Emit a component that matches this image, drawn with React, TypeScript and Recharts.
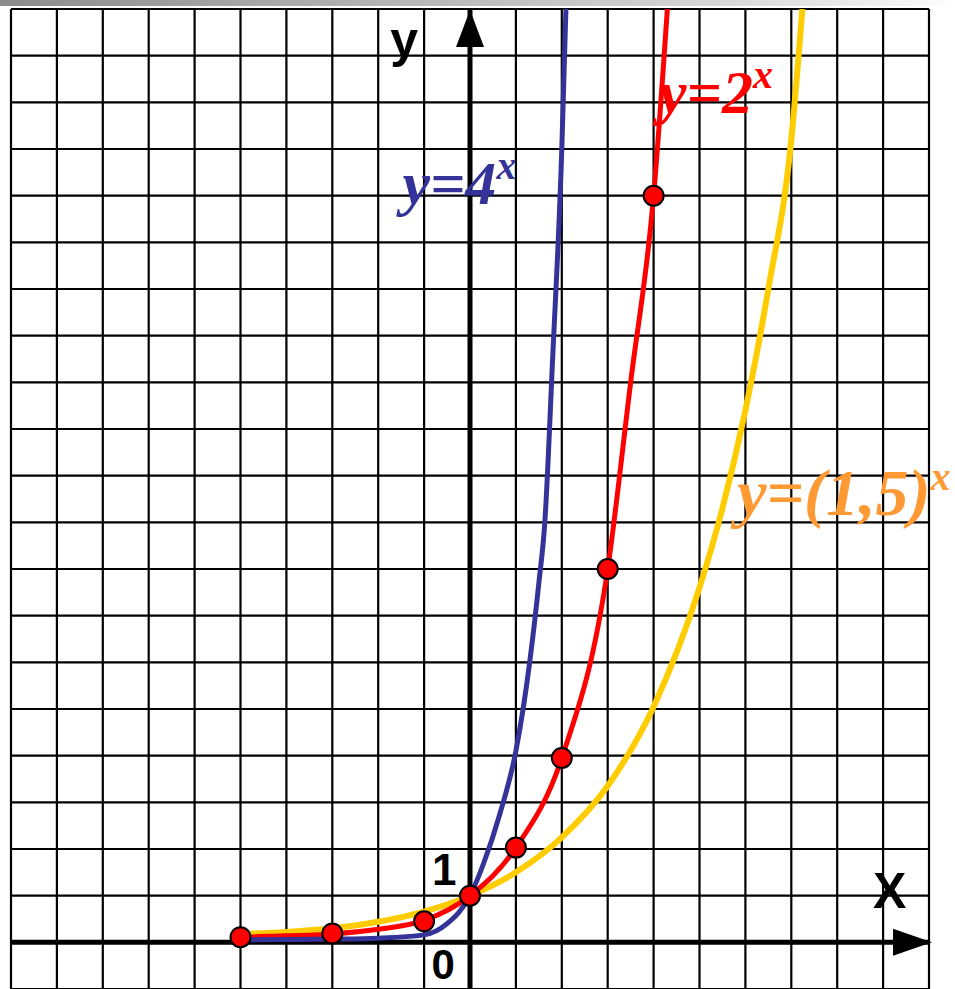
import React from "react";
import {
  CartesianGrid,
  ComposedChart,
  Line,
  ReferenceDot,
  ReferenceLine,
  Scatter,
  XAxis,
  YAxis,
} from "recharts";

// grid ticks, one per cell
const xTicks = [-10, -9, -8, -7, -6, -5, -4, -3, -2, -1, 0, 1, 2, 3, 4, 5, 6, 7, 8, 9, 10];
const yTicks = [-1, 0, 1, 2, 3, 4, 5, 6, 7, 8, 9, 10, 11, 12, 13, 14, 15, 16, 17, 18, 19, 20];

// y = 4^x
const pow4 = [
  { x: -5.2, y: 0.05 },
  { x: -4, y: 0.06 },
  { x: -3, y: 0.07 },
  { x: -2, y: 0.09 },
  { x: -1, y: 0.16 },
  { x: -0.5, y: 0.4 },
  { x: 0, y: 1 },
  { x: 0.3, y: 1.7 },
  { x: 0.65, y: 2.75 },
  { x: 1, y: 4.1 },
  { x: 1.3, y: 6 },
  { x: 1.5, y: 7.7 },
  { x: 1.63, y: 9 },
  { x: 1.8, y: 12.5 },
  { x: 2, y: 17 },
  { x: 2.09, y: 20 },
];

// y = 2^x
const pow2 = [
  { x: -5.2, y: 0.1 },
  { x: -5, y: 0.11 },
  { x: -4, y: 0.14 },
  { x: -3, y: 0.18 },
  { x: -2, y: 0.28 },
  { x: -1, y: 0.47 },
  { x: 0, y: 1 },
  { x: 1, y: 2.03 },
  { x: 2, y: 3.95 },
  { x: 3, y: 8 },
  { x: 3.5, y: 12 },
  { x: 4, y: 16 },
  { x: 4.3, y: 20 },
];

// red points on y = 2^x
const pow2Marks = [
  { x: -5, y: 0.11 },
  { x: -3, y: 0.19 },
  { x: -1, y: 0.45 },
  { x: 0, y: 1 },
  { x: 1, y: 2.03 },
  { x: 2, y: 3.95 },
  { x: 3, y: 8 },
  { x: 4, y: 16 },
];

// y = (1,5)^x
const pow15 = [
  { x: -5.2, y: 0.17 },
  { x: -4, y: 0.22 },
  { x: -3, y: 0.3 },
  { x: -2, y: 0.44 },
  { x: -1, y: 0.66 },
  { x: -0.5, y: 0.81 },
  { x: 0, y: 1 },
  { x: 1, y: 1.5 },
  { x: 2, y: 2.25 },
  { x: 3, y: 3.35 },
  { x: 4, y: 5.05 },
  { x: 5, y: 7.6 },
  { x: 5.5, y: 9.3 },
  { x: 6, y: 11.4 },
  { x: 6.5, y: 14 },
  { x: 7, y: 17.2 },
  { x: 7.24, y: 20 },
];

const W = 955;
const H = 989;

const serif = "'Liberation Serif', 'Times New Roman', serif";
const sans = "'Liberation Sans', Arial, sans-serif";

const noTick = () => <g />;

const redDot = (props: any) => (
  <circle cx={props.cx} cy={props.cy} r={10} fill="#ff0000" stroke="#000" strokeWidth={2} />
);

const xArrow = (props: any) => {
  const { cx, cy } = props;
  return <polygon points={`${cx + 3},${cy} ${cx - 36},${cy - 13.5} ${cx - 36},${cy + 13.5}`} fill="#000" />;
};

const yArrow = (props: any) => {
  const { cx, cy } = props;
  return <polygon points={`${cx},${cy + 1} ${cx - 14},${cy + 38} ${cx + 14},${cy + 38}`} fill="#000" />;
};

const formula = (base: string, color: string, size = 62) => (props: any) => (
  <text
    x={props.cx}
    y={props.cy}
    fill={color}
    fontFamily={serif}
    fontWeight="bold"
    fontStyle="italic"
    fontSize={size}
  >
    {base}
    <tspan dy={-25} fontSize={40}>
      x
    </tspan>
  </text>
);

const plain = (label: string, size: number) => (props: any) => (
  <text x={props.cx} y={props.cy} fill="#000" fontFamily={sans} fontWeight="bold" fontSize={size}>
    {label}
  </text>
);

export default function App() {
  return (
    <div style={{ position: "relative", width: W, height: H, background: "#fff", overflow: "hidden" }}>
      <style>{"body{margin:0;}"}</style>
      <div
        style={{
          position: "absolute",
          left: 0,
          top: 0,
          width: W,
          height: 6,
          background: "linear-gradient(90deg, #8c8c8c 0%, #b9b9b9 45%, #d6d6d6 75%, #f4f4f4 95%, #fff 100%)",
        }}
      />
      <ComposedChart width={W} height={H} margin={{ top: 9, right: 26, bottom: 0, left: 11 }}>
        <CartesianGrid stroke="#000" strokeWidth={2.2} />
        <XAxis
          dataKey="x"
          type="number"
          domain={[-10, 10]}
          ticks={xTicks}
          interval={0}
          allowDataOverflow
          height={0}
          tick={noTick}
          tickLine={false}
          axisLine={false}
        />
        <YAxis
          type="number"
          domain={[-1, 20]}
          ticks={yTicks}
          interval={0}
          allowDataOverflow
          width={0}
          tick={noTick}
          tickLine={false}
          axisLine={false}
        />
        <ReferenceLine y={0} stroke="#000" strokeWidth={5} />
        <ReferenceLine x={0} stroke="#000" strokeWidth={5} />

        <Line data={pow15} dataKey="y" type="monotone" stroke="#ffcc00" strokeWidth={6} dot={false} isAnimationActive={false} />
        <Line data={pow2} dataKey="y" type="monotone" stroke="#ff0000" strokeWidth={5} dot={false} isAnimationActive={false} />
        <Line data={pow4} dataKey="y" type="monotone" stroke="#333399" strokeWidth={5} dot={false} isAnimationActive={false} />
        <Scatter data={pow2Marks} dataKey="y" shape={redDot} isAnimationActive={false} />

        <ReferenceDot x={10} y={0} shape={xArrow} />
        <ReferenceDot x={0} y={20} shape={yArrow} />

        <ReferenceDot x={-1.74} y={18.98} shape={plain("y", 50)} />
        <ReferenceDot x={8.78} y={0.73} shape={plain("X", 50)} />
        <ReferenceDot x={-0.83} y={1.22} shape={plain("1", 44)} />
        <ReferenceDot x={-0.84} y={-0.79} shape={plain("0", 42)} />

        <ReferenceDot x={-1.47} y={15.83} shape={formula("y=4", "#333399")} />
        <ReferenceDot x={4.12} y={17.78} shape={formula("y=2", "#ff0000")} />
        <ReferenceDot x={5.82} y={9.15} shape={formula("y=(1,5)", "#ff9933", 66)} />
      </ComposedChart>
    </div>
  );
}
